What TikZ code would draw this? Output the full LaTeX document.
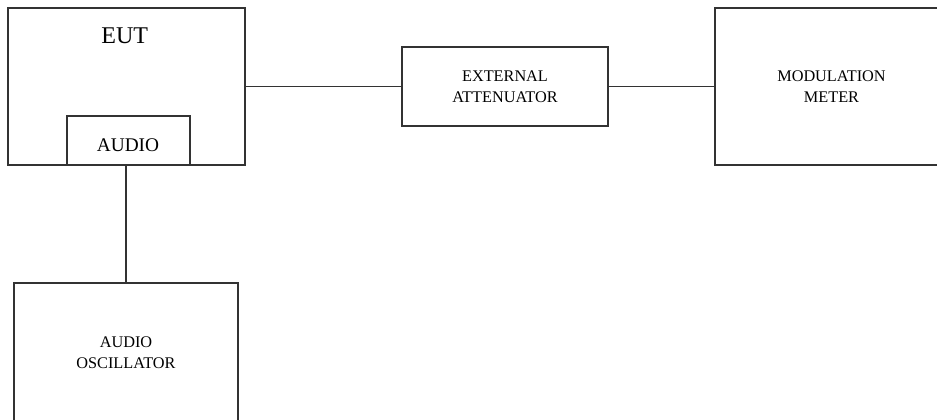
\documentclass[tikz,border=0pt]{standalone}
\usepackage{fontspec}
\setmainfont{Liberation Serif}

\begin{document}
\begin{tikzpicture}[x=0.75pt,y=-0.75pt,
    unit/.style={draw=black!80, line width=0.8pt, align=center, inner sep=0pt,
      font=\fontsize{12.2}{15.75}\selectfont},
    link/.style={draw=black!80, line width=0.8pt}]
      \clip (0,0) rectangle (937,419);
      % boxes
      \node[unit, minimum width=177.75pt, minimum height=117.75pt] (eut) at (126.5,86.5) {};
      \node[unit, minimum width=92.25pt, minimum height=36.75pt] (audio) at (128.5,140.5) {};
      \node[unit, minimum width=154.5pt, minimum height=59.25pt] (atten) at (505,86.5) {EXTERNAL\\ATTENUATOR};
      \node[unit, minimum width=174.75pt, minimum height=117.75pt] (meter) at (831.5,86.5) {MODULATION\\METER};
      \node[unit, minimum width=168pt, minimum height=104.25pt] (osc) at (126,352.5) {AUDIO\\OSCILLATOR};
      % labels inside the EUT
      \node[font=\fontsize{18}{20}\selectfont, inner sep=0pt] (euttext) at (124.7,35.5) {EUT};
      \node[font=\fontsize{14.5}{17}\selectfont, inner sep=0pt] (audiotext) at (128,145.3) {AUDIO};
      % links
      \draw[link] (eut.east) -- (atten.west);
      \draw[link] (atten.east) -- (meter.west);
      \draw[link] (osc.north |- audio.south) -- (osc.north);
    \end{tikzpicture}
\end{document}
